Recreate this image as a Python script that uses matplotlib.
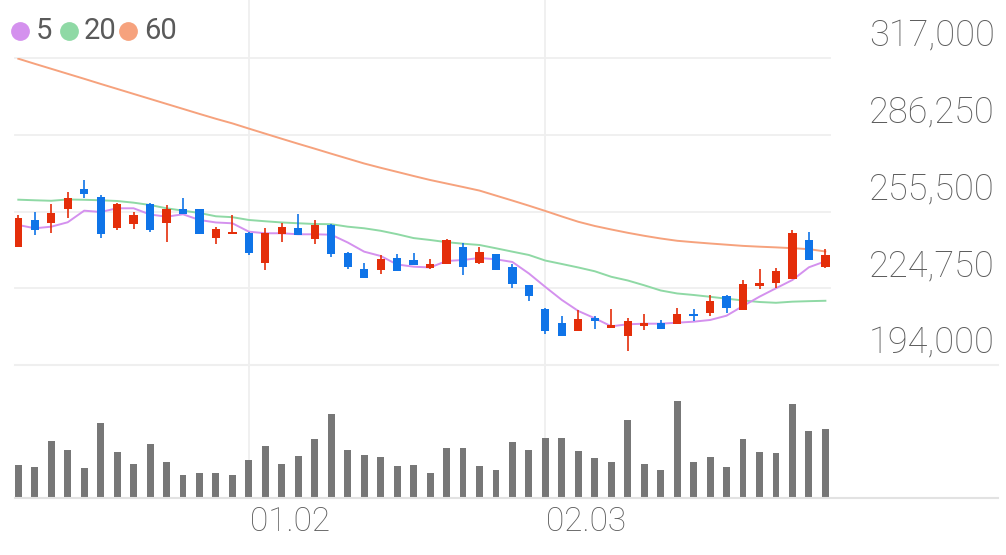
import matplotlib
matplotlib.use("Agg")
import matplotlib.pyplot as plt
import matplotlib.transforms as mtransforms
from matplotlib.lines import Line2D
import numpy as np

# daily candles (won)
opens = [241500, 252000, 251000, 256500, 264500, 261500, 249000, 250500, 258500, 251000,
         256500, 256500, 245000, 246500, 247000, 235000, 246500, 249000, 244500, 250000,
         239000, 232500, 232000, 237000, 236000, 233000, 234500, 241500, 235000, 238500,
         233500, 226000, 216500, 211000, 207500, 213000, 209000, 205500, 209500, 211000,
         210500, 214500, 215000, 221500, 216000, 225500, 227000, 228500, 244000, 233500]
highs = [254000, 255500, 258500, 263500, 268000, 262000, 259000, 255500, 259000, 258000,
         261000, 256500, 249500, 254000, 247500, 249000, 251000, 254500, 252000, 250500,
         239500, 235000, 238000, 238500, 239000, 236500, 244500, 243000, 241500, 238500,
         234500, 226000, 217000, 213500, 216000, 213500, 216500, 213000, 214500, 212000,
         217000, 216500, 222000, 222000, 228000, 232500, 233000, 248000, 247500, 240500]
lows = [241500, 246000, 247000, 253000, 261000, 245000, 248000, 248500, 247500, 243500,
        254500, 246500, 242500, 246500, 238000, 232000, 243500, 246000, 242500, 237500,
        232500, 229000, 230500, 231500, 234000, 232500, 234500, 230000, 234500, 232000,
        225000, 219500, 206500, 205500, 207500, 208500, 209000, 199500, 208000, 208500,
        210500, 211500, 213500, 215000, 216000, 224500, 225000, 228500, 236000, 233000]
closes = [253000, 248000, 255000, 261000, 262500, 246500, 258500, 254000, 248000, 256500,
          254500, 246500, 248500, 247500, 239000, 247000, 249500, 246000, 250000, 238500,
          233500, 229000, 236500, 231500, 234000, 234500, 244000, 233500, 239500, 232000,
          226500, 221500, 207500, 205500, 212500, 211500, 210000, 211500, 211000, 208500,
          214500, 213500, 219500, 217000, 226500, 227000, 231500, 247000, 236000, 238000]
volumes = [98, 91, 171, 143, 89, 223, 138, 101, 162, 107, 69, 74, 74, 67, 113, 156, 100, 125,
           176, 250, 142, 129, 123, 96, 99, 73, 150, 148, 94, 83, 167, 142, 178, 180, 139,
           120, 107, 234, 101, 84, 291, 108, 123, 91, 176, 136, 135, 280, 201, 205]

ma5 = [250150, 248830, 249470, 251240, 255890, 255370, 256850, 256850, 254360, 253480,
       254440, 252160, 251160, 250830, 247470, 246830, 246830, 246420, 246420, 246260,
       243130, 239450, 237720, 234310, 233430, 233110, 235710, 236120, 236920, 236400,
       235310, 230700, 225290, 220080, 215660, 212740, 209530, 210330, 210570, 210570,
       210970, 211370, 212050, 213780, 217670, 221400, 224770, 228100, 233190, 235600]
ma20 = [260300, 260060, 259860, 260380, 260260, 260060, 259780, 259100, 258170, 256850,
        255890, 254970, 253640, 253280, 252160, 251640, 251160, 250840, 250550, 250470,
        249470, 248830, 247830, 246460, 244900, 244140, 243260, 242650, 242130, 240810,
        239450, 238120, 235880, 234510, 233110, 231590, 229380, 227900, 225970, 223890,
        222690, 222080, 221360, 220600, 219880, 219270, 218950, 219400, 219600, 219760]
ma60 = [316840, 314790, 312790, 310780, 308780, 306730, 304730, 302720, 300720, 298710,
        296710, 294700, 292740, 290890, 288810, 286760, 284720, 282710, 280750, 278740,
        276780, 274810, 273090, 271450, 269800, 268200, 266790, 265390, 263950, 261940,
        259940, 257890, 255770, 253560, 251440, 249750, 248350, 247020, 245820, 244740,
        243820, 243250, 242730, 242250, 241770, 241450, 241170, 240850, 240450, 239530]

price_levels = [194000, 224750, 255500, 286250, 317000]
date_labels = ["01.02", "02.03"]
date_pos = [14, 32]

UP = "#e42e0a"
DOWN = "#0f74e8"
GRID = "#efefef"
TXT = "#5c5c5c"
FONT = ["Roboto", "DejaVu Sans"]

W, H = 1006, 555
fig = plt.figure(figsize=(W / 100, H / 100), dpi=100)

def fx(px):
    return px / W

def fy(py):
    return 1 - py / H

left, right = 15, 830
ax = fig.add_axes([fx(left), fy(365), fx(right - left), fy(58.3) - fy(365)])
axv = fig.add_axes([fx(left), fy(497.7), fx(right - left), fy(365) - fy(497.7)])

x = np.arange(len(opens))
o = np.array(opens)
c = np.array(closes)
colors = [UP if cc >= oo else DOWN for oo, cc in zip(opens, closes)]

# price panel
for lvl in price_levels[1:]:
    ax.axhline(lvl, color=GRID, lw=1.3, zorder=0, clip_on=False)
ax.plot(x, ma60, color="#f6a27d", lw=1.4, zorder=2)
ax.plot(x, ma20, color="#8fd9a5", lw=1.4, zorder=2)
ax.plot(x, ma5, color="#d491ee", lw=1.4, zorder=2)
ax.vlines(x, lows, highs, colors=colors, lw=1.2, zorder=3)
body = np.maximum(np.abs(c - o), 700)
ax.bar(x, body, bottom=np.minimum(o, c), width=0.5, color=colors, zorder=4)
ax.set_xlim(-0.2, 49.28)
ax.set_ylim(194000, 317000)
ax.axis("off")

# volume panel
axv.bar(x, volumes, width=0.42, color="#777777", zorder=2)
axv.set_xlim(-0.2, 49.28)
axv.set_ylim(0, 398)
axv.axis("off")

# separator lines
fig.add_artist(Line2D([fx(left), fx(998)], [fy(365), fy(365)], color=GRID, lw=1.5, transform=fig.transFigure))
fig.add_artist(Line2D([fx(left), fx(998)], [fy(497.7), fy(497.7)], color="#e2e2e2", lw=1.5, transform=fig.transFigure))

# vertical date lines + labels
tv = mtransforms.blended_transform_factory(ax.transData, fig.transFigure)
for pos, lab in zip(date_pos, date_labels):
    fig.add_artist(Line2D([pos, pos], [fy(497.7), 1.0], color=GRID, lw=1.3, transform=tv, zorder=0))
    fig.text(pos, fy(522), lab, transform=mtransforms.offset_copy(tv, fig, x=1, units="dots"),
             ha="left", va="center", fontsize=24, color=TXT, family=FONT, fontweight="light")

# right-side price labels, sitting above each gridline
tl = mtransforms.blended_transform_factory(fig.transFigure, ax.transData)
tl = mtransforms.offset_copy(tl, fig, y=22, units="dots")
for lvl in price_levels:
    fig.text(fx(995), lvl, f"{lvl:,}", transform=tl, ha="right", va="center",
             fontsize=26, color=TXT, family=FONT, fontweight="light")

# MA legend
legend = [("5", "#d491ee", 20, 36), ("20", "#8fd9a5", 69, 84), ("60", "#f6a27d", 128, 144)]
for lab, col, cx, tx in legend:
    fig.add_artist(Line2D([fx(cx)], [fy(31)], marker="o", markersize=12.5, color=col,
                          lw=0, transform=fig.transFigure))
    fig.text(fx(tx), fy(31), lab, ha="left", va="center", fontsize=21, color="#5a5a5a",
             family=FONT)

fig.savefig("out.png", dpi=100)
